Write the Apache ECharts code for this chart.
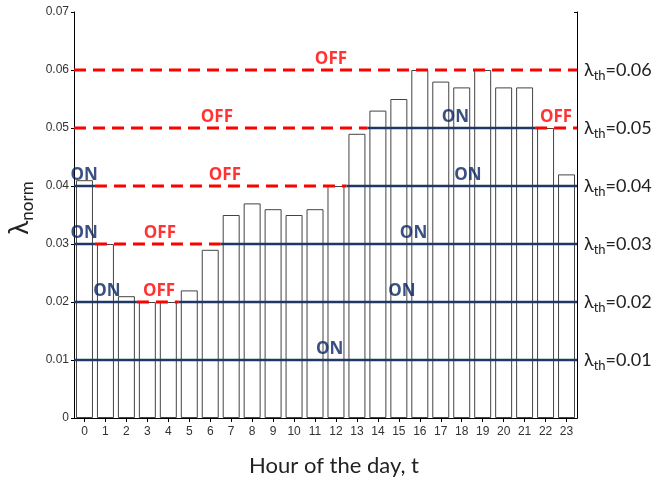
<!DOCTYPE html>
<html>
<head>
<meta charset="utf-8">
<script src="https://cdn.jsdelivr.net/npm/echarts@6/dist/echarts.min.js"></script>
<style>html,body{margin:0;padding:0;background:#fff}#c{width:656px;height:478px}</style>
</head>
<body>
<div id="c"></div>
<script>
const hours = ['0','1','2','3','4','5','6','7','8','9','10','11','12','13','14','15','16','17','18','19','20','21','22','23'];
const lambdaNorm = [0.041,0.030,0.021,0.020,0.020,0.022,0.029,0.035,0.037,0.036,0.035,0.036,0.040,0.049,0.053,0.055,0.060,0.058,0.057,0.060,0.057,0.057,0.050,0.042];
const thresholds = [0.01,0.02,0.03,0.04,0.05,0.06];
const yTicks = [0,0.01,0.02,0.03,0.04,0.05,0.06,0.07];
// state label anchors: [hour position, threshold, text]
const stateLabels = [
  [12.26,0.06,'OFF'],
  [6.82,0.05,'OFF'],[18.2,0.05,'ON'],[23.0,0.05,'OFF'],
  [0.48,0.04,'ON'],[7.2,0.04,'OFF'],[18.8,0.04,'ON'],
  [0.48,0.03,'ON'],[4.1,0.03,'OFF'],[16.2,0.03,'ON'],
  [1.57,0.02,'ON'],[4.06,0.02,'OFF'],[15.65,0.02,'ON'],
  [12.2,0.01,'ON']
];

const ON_COLOR = '#1f3864';
const OFF_COLOR = '#ff0000';

// build ON/OFF runs for each threshold
const segSeries = [];
thresholds.forEach(th => {
  let start = 0;
  let state = lambdaNorm[0] > th;
  for (let i = 1; i <= lambdaNorm.length; i++) {
    const s = i < lambdaNorm.length ? lambdaNorm[i] > th : null;
    if (s !== state) {
      segSeries.push({
        type: 'line', xAxisIndex: 2, yAxisIndex: 0, silent: true, symbol: 'none', z: 5,
        data: [[start, th], [i, th]],
        lineStyle: state ? {color: ON_COLOR, width: 2.5, type: 'solid'}
                         : {color: OFF_COLOR, width: 3, type: [12, 7]}
      });
      start = i;
      state = s;
    }
  }
});

const labelSeries = {
  type: 'scatter', xAxisIndex: 2, yAxisIndex: 0, symbolSize: 0, silent: true, z: 10,
  data: stateLabels.map(d => ({value: [d[0], d[1]], name: d[2],
    label: {color: d[2] === 'ON' ? '#0a2463' : OFF_COLOR}})),
  label: {show: true, position: 'top', distance: 0, offset: [0, -2], formatter: p => p.name,
    fontFamily: 'Open Sans', fontWeight: 'bold', fontSize: 17}
};

const chart = echarts.init(document.getElementById('c'));
chart.setOption({
  animation: false,
  grid: {left: 74, right: 79, top: 12, bottom: 60},
  xAxis: [
    {type: 'category', data: hours, position: 'bottom',
     axisLine: {lineStyle: {color: '#000', width: 1}}, axisTick: {show: false},
     axisLabel: {color: '#333', fontFamily: 'Liberation Sans', fontSize: 12, margin: 8}},
    {type: 'category', data: hours, position: 'top',
     axisLine: {show: true, lineStyle: {color: '#000', width: 1}},
     axisTick: {show: true, inside: true, alignWithLabel: true, length: 4, lineStyle: {color: '#000'}},
     axisLabel: {show: false}},
    {type: 'value', min: 0, max: 24, show: false}
  ],
  yAxis: [
    {type: 'value', min: 0, max: 0.07, interval: 0.01, position: 'left',
     splitLine: {show: false},
     axisLine: {show: true, lineStyle: {color: '#000', width: 1}},
     axisTick: {show: true, length: 3, lineStyle: {color: '#000'}},
     axisLabel: {color: '#333', fontFamily: 'Liberation Sans', fontSize: 12, margin: 5,
       formatter: v => { const t = yTicks.find(x => Math.abs(x - v) < 1e-9); return t === 0 ? '0' : String(t); }}},
    {type: 'value', min: 0, max: 0.07, interval: 0.01, position: 'right',
     splitLine: {show: false},
     axisLine: {show: true, lineStyle: {color: '#000', width: 1}},
     axisTick: {show: true, inside: true, length: 3, lineStyle: {color: '#000'}},
     axisLabel: {margin: 7, color: '#222',
       formatter: v => { const t = thresholds.find(x => Math.abs(x - v) < 1e-9);
         return t === undefined ? '' : '{a|λ}{b|th}{a|=' + t.toFixed(2) + '}'; },
       rich: {a: {fontFamily: 'Lato', fontSize: 18, color: '#222'},
              b: {fontFamily: 'Lato', fontSize: 13, color: '#222', padding: [12, 0, 0, 0]}}}}
  ],
  graphic: [
    {type: 'text', x: 334, y: 466,
     style: {text: 'Hour of the day, t', font: '22px Lato', fill: '#222', align: 'center', verticalAlign: 'middle'}},
    {type: 'text', x: 20, y: 208, rotation: Math.PI / 2,
     style: {text: '{a|λ}{b|norm}', align: 'center', verticalAlign: 'middle',
       rich: {a: {fontFamily: 'Lato', fontSize: 26, fill: '#222', color: '#222'},
              b: {fontFamily: 'Lato', fontSize: 17, fill: '#222', color: '#222', padding: [15, 0, 0, 0]}}}}
  ],
  series: [
    {type: 'bar', data: lambdaNorm, xAxisIndex: 0, yAxisIndex: 0, barCategoryGap: '19%', z: 2,
     itemStyle: {color: '#fff', borderColor: '#444', borderWidth: 1}, silent: true},
    ...segSeries,
    labelSeries
  ]
});
</script>
</body>
</html>
